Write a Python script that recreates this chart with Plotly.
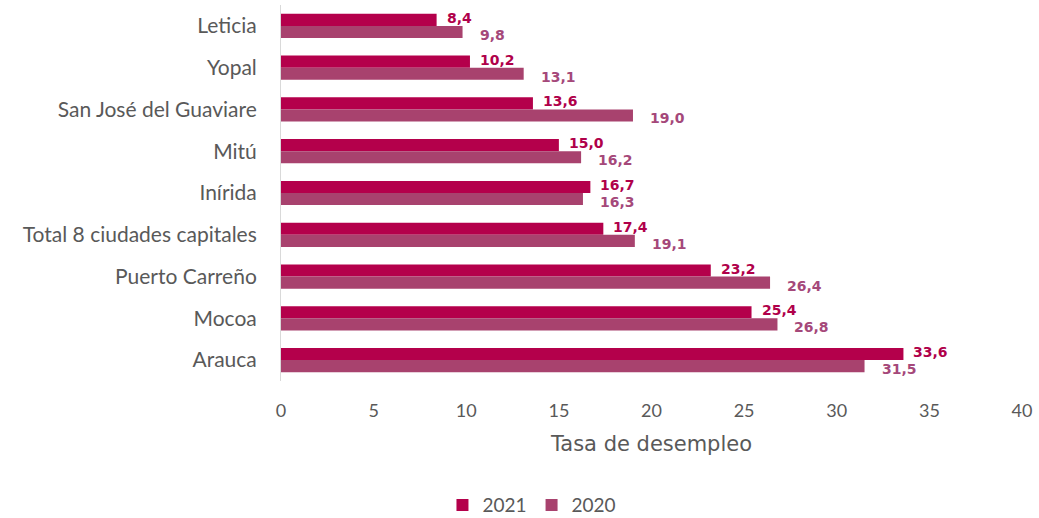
import plotly.graph_objects as go

categories = ["Leticia", "Yopal", "San José del Guaviare", "Mitú", "Inírida",
              "Total 8 ciudades capitales", "Puerto Carreño", "Mocoa", "Arauca"]
values_2021 = [8.4, 10.2, 13.6, 15.0, 16.7, 17.4, 23.2, 25.4, 33.6]
values_2020 = [9.8, 13.1, 19.0, 16.2, 16.3, 19.1, 26.4, 26.8, 31.5]
x_ticks = [0, 5, 10, 15, 20, 25, 30, 35, 40]

c2021 = "#B4004B"
c2020 = "#A8426E"
t2021 = "#B0004A"
t2020 = "#A5487A"

def fmt(v):
    return f"{v:.1f}".replace(".", ",")

fig = go.Figure()
fig.add_trace(go.Bar(y=categories, x=values_2021, orientation="h", name="2021",
                     marker=dict(color=c2021, line=dict(width=0))))
fig.add_trace(go.Bar(y=categories, x=values_2020, orientation="h", name="2020",
                     marker=dict(color=c2020, line=dict(width=0))))

ann = []
for cat, v in zip(categories, values_2021):
    ann.append(dict(x=v, y=cat, xref="x", yref="y", text=fmt(v), showarrow=False,
                    xanchor="left", yanchor="middle", xshift=8, yshift=8,
                    font=dict(family="DejaVu Sans", size=14, color=t2021, weight="bold")))
for cat, v in zip(categories, values_2020):
    ann.append(dict(x=v, y=cat, xref="x", yref="y", text=fmt(v), showarrow=False,
                    xanchor="left", yanchor="middle", xshift=15, yshift=-9,
                    font=dict(family="DejaVu Sans", size=14, color=t2020, weight="bold")))

fig.update_layout(
    width=1039, height=518,
    margin=dict(l=281, r=17, t=5, b=137, autoexpand=False),
    paper_bgcolor="white", plot_bgcolor="white",
    barmode="group", bargap=0.42, bargroupgap=0,
    font=dict(family="Lato", size=19, color="#595959"),
    annotations=ann,
    showlegend=True,
    legend=dict(orientation="h", xref="container", yref="container",
                x=0.512, xanchor="center", y=0.025, yanchor="middle",
                font=dict(family="Lato", size=19, color="#595959"), traceorder="normal",
                itemwidth=30),
    xaxis=dict(range=[0, 40], tickvals=x_ticks, ticktext=[str(t) for t in x_ticks],
               showgrid=False, zeroline=False, showline=False, ticks="",
               ticklabelstandoff=17, automargin=False,
               title=dict(text="Tasa de desempleo", standoff=16,
                          font=dict(family="DejaVu Sans", size=21, color="#595959")),
               tickfont=dict(family="Lato", size=18, color="#595959")),
    yaxis=dict(autorange="reversed", showgrid=False, zeroline=False, automargin=False,
               showline=True, linecolor="#D9D9D9", linewidth=1, ticks="",
               ticklabelstandoff=19, tickfont=dict(family="Lato", size=21, color="#595959")),
)

fig.write_html("out.html", config={"displayModeBar": False},
               post_script="document.body.style.margin='0';document.body.style.overflow='hidden';")
